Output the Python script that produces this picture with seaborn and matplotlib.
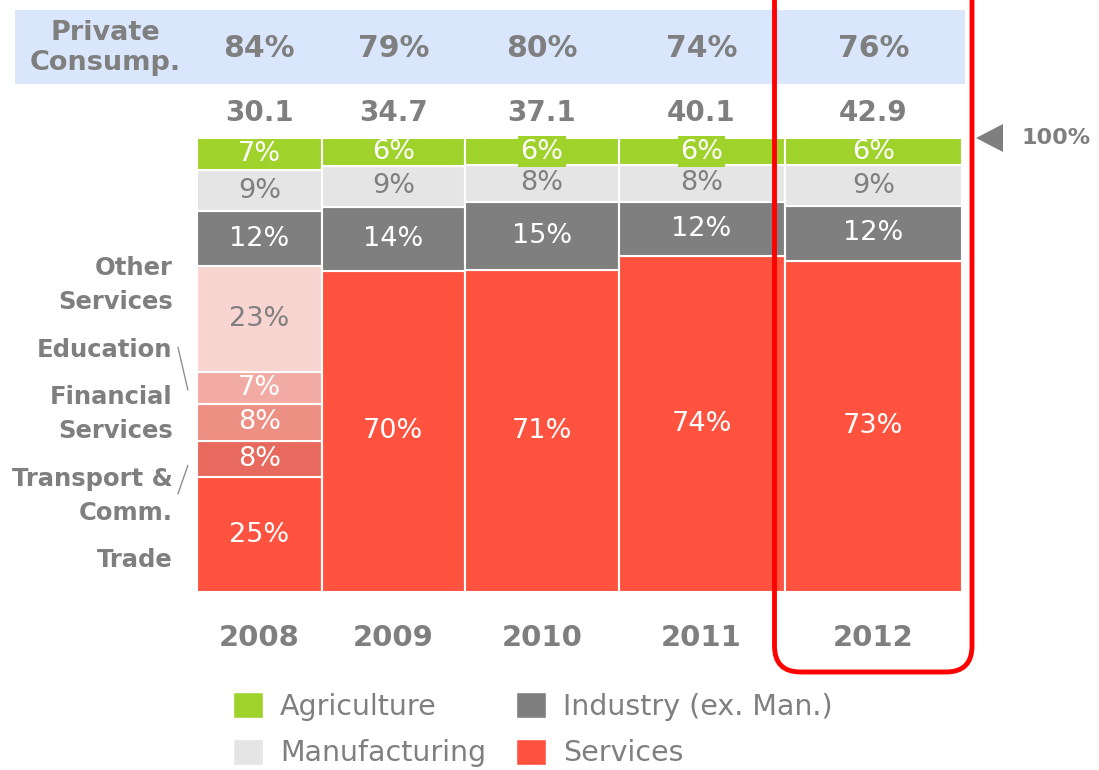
import matplotlib
matplotlib.use("Agg")
import matplotlib.pyplot as plt
import seaborn as sns
from matplotlib.patches import Patch, Rectangle, FancyBboxPatch, Polygon
from matplotlib.transforms import IdentityTransform

# Data
years = ["2008", "2009", "2010", "2011", "2012"]
gdp_total = [30.1, 34.7, 37.1, 40.1, 42.9]
private_consump = [84, 79, 80, 74, 76]
agriculture = [7, 6, 6, 6, 6]
manufacturing = [9, 9, 8, 8, 9]
industry = [12, 14, 15, 12, 12]
services = [71, 70, 71, 74, 73]

# 2008 services breakdown (bottom to top)
services_2008_names = ["Trade", "Transport &\nComm.", "Financial\nServices", "Education", "Other\nServices"]
services_2008_values = [25, 8, 8, 7, 23]

# Colors
GREEN = "#9fd22b"
LIGHT = "#e5e5e5"
DARK = "#7f7f7f"
RED = "#ff5340"
SUB_COLORS = ["#ff5340", "#e86a5e", "#ee8f84", "#f2aba4", "#f8d5d1"]
TXT = "#7f7f7f"
HEADER_BG = "#dae6fb"

sns.set_style("white")
plt.rcParams["font.family"] = ["DejaVu Sans"]

fig = plt.figure(figsize=(10.99, 7.7), dpi=100)
W, H = 1099, 770
ax = fig.add_axes([197 / W, 1 - 592 / H, 765 / W, 454 / H])
ax.set_xlim(0, sum(gdp_total))
ax.set_ylim(0, 100)
ax.axis("off")

lefts = []
x = 0
for w in gdp_total:
    lefts.append(x)
    x += w
centers = [l + w / 2 for l, w in zip(lefts, gdp_total)]

boxed_green = {"2010", "2011"}
for i, yr in enumerate(years):
    if yr == "2008":
        segs = [(v, c, "#7f7f7f" if k == 4 else "white") for k, (v, c) in enumerate(zip(services_2008_values, SUB_COLORS))]
    else:
        segs = [(services[i], RED, "white")]
    segs += [(industry[i], DARK, "white"), (manufacturing[i], LIGHT, TXT), (agriculture[i], GREEN, "white")]
    total = sum(s[0] for s in segs)
    bottom = 0
    for v, col, tcol in segs:
        h = v * 100 / total
        ax.bar(lefts[i], h, width=gdp_total[i], bottom=bottom, align="edge",
               color=col, edgecolor="white", linewidth=1.5)
        kw = {}
        if col == GREEN and yr in boxed_green:
            kw["bbox"] = dict(boxstyle="square,pad=0.08", fc=GREEN, ec="none")
        ax.text(centers[i], bottom + h / 2, f"{v}%", ha="center", va="center",
                color=tcol, fontsize=19.5, **kw)
        bottom += h
    # totals and year labels
    ax.text(centers[i], 105.5, f"{gdp_total[i]}", ha="center", va="center",
            color=TXT, fontsize=20, fontweight="bold", clip_on=False)
    ax.text(centers[i], -10.2, yr, ha="center", va="center",
            color=TXT, fontsize=21, fontweight="bold", clip_on=False)
    ax.text(centers[i], 119.8, f"{private_consump[i]}%", ha="center", va="center",
            color=TXT, fontsize=21.5, fontweight="bold", clip_on=False, zorder=5)

# header band
fig.add_artist(Rectangle((15 / W, 1 - 84 / H), 950 / W, 74 / H, transform=fig.transFigure,
                         facecolor=HEADER_BG, edgecolor="none", zorder=0))
fig.text(105 / W, 1 - 48 / H, "Private\nConsump.", ha="center", va="center",
         color=TXT, fontsize=19.5, fontweight="bold", linespacing=1.25)

# left side labels for 2008 breakdown
label_y = [7.0, 21.1, 39.2, 53.3, 67.6]
for name, yy in zip(services_2008_names, label_y):
    ax.text(-5.9, yy, name, ha="right", va="center", color=TXT, fontsize=17.5,
            fontweight="bold", linespacing=1.5, clip_on=False)
ax.plot([-4.6, -2.2], [53.9, 44.5], color="#909090", lw=1, clip_on=False)
ax.plot([-4.6, -2.2], [21.6, 27.9], color="#909090", lw=1, clip_on=False)

# 100% marker
fig.add_artist(Polygon([(976 / W, 1 - 138 / H), (1003 / W, 1 - 124 / H), (1003 / W, 1 - 152 / H)],
                       closed=True, transform=fig.transFigure, facecolor="#7f7f7f", edgecolor="none"))
fig.text(1056 / W, 1 - 138 / H, "100%", ha="center", va="center", color=TXT,
         fontsize=16, fontweight="bold")

# highlight box around 2012
fig.canvas.draw()
x0 = ax.transData.transform((lefts[4], 0))[0] - 10
x1 = ax.transData.transform((lefts[4] + gdp_total[4], 0))[0] + 10
y_bottom = H - 672
box = FancyBboxPatch((x0, y_bottom), x1 - x0, 700, boxstyle="round,pad=0,rounding_size=26",
                     transform=IdentityTransform(), facecolor="none", edgecolor="#ff0000",
                     linewidth=3.5, zorder=10)
fig.add_artist(box)

# legend
handles = [Patch(facecolor=GREEN, label="Agriculture"),
           Patch(facecolor=LIGHT, label="Manufacturing"),
           Patch(facecolor=DARK, label="Industry (ex. Man.)"),
           Patch(facecolor=RED, label="Services")]
fig.legend(handles=handles, ncol=2, loc="upper left", bbox_to_anchor=(233 / W, 1 - 692 / H),
           frameon=False, fontsize=20.5, labelcolor=TXT, handlelength=1.05, handleheight=1.05,
           handletextpad=0.6, columnspacing=1.05, labelspacing=0.62, borderaxespad=0, borderpad=0)

fig.savefig("out.png", dpi=100)
